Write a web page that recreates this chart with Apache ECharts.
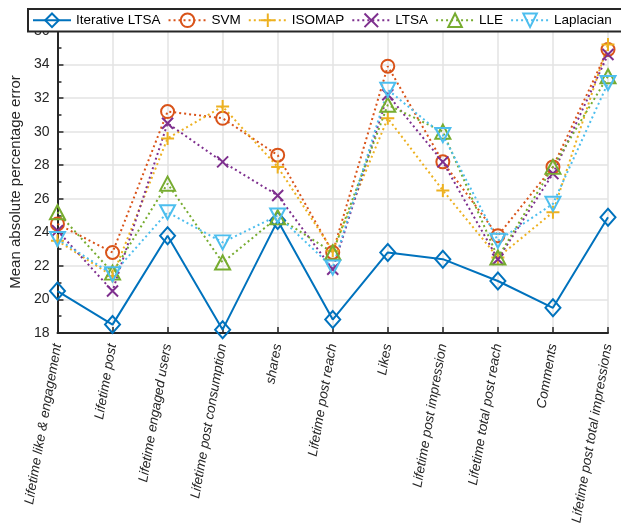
<!DOCTYPE html>
<html>
<head>
<meta charset="utf-8">
<script src="https://cdn.jsdelivr.net/npm/echarts@6/dist/echarts.min.js"></script>
<style>
  html, body { margin: 0; padding: 0; background: #fff; }
  #chart { width: 621px; height: 527px; }
</style>
</head>
<body>
<div id="chart"></div>
<script>
// Feature categories along the x axis
var categories = [
  'Lifetime like & engagement',
  'Lifetime post',
  'Lifetime engaged users',
  'Lifetime post consumption',
  'shares',
  'Lifetime post reach',
  'Likes',
  'Lifetime post impression',
  'Lifetime total post reach',
  'Comments',
  'Lifetime post total impressions'
];

// Mean absolute percentage error per method
var iterativeLtsa = [20.5, 18.5, 23.8, 18.2, 24.7, 18.8, 22.8, 22.4, 21.1, 19.5, 24.9];
var svm           = [24.5, 22.8, 31.2, 30.8, 28.6, 22.8, 33.9, 28.2, 23.8, 27.9, 34.9];
var isomap        = [23.5, 21.4, 29.6, 31.5, 27.9, 22.9, 30.8, 26.5, 22.5, 25.2, 35.2];
var ltsa          = [24.1, 20.5, 30.5, 28.2, 26.2, 21.8, 32.2, 28.2, 22.4, 27.5, 34.6];
var lle           = [25.2, 21.6, 26.9, 22.2, 24.9, 22.8, 31.6, 30.0, 22.5, 27.9, 33.3];
var laplacian     = [23.6, 21.5, 25.2, 23.4, 25.0, 21.9, 32.5, 29.8, 23.5, 25.7, 32.9];

// Y axis range and step
var yTicks = { min: 18, max: 36, step: 2 };

var FONT = 'Liberation Sans, Arial, Helvetica, sans-serif';
var AXIS_COLOR = '#262626';

var PLUS = 'path://M5,0L5,10M0,5L10,5';
var CROSS = 'path://M0,0L10,10M10,0L0,10';

function makeSeries(name, data, color, symbol, size, solid, rotate) {
  return {
    name: name,
    type: 'line',
    data: data,
    symbol: symbol,
    symbolSize: size,
    symbolRotate: rotate || 0,
    showAllSymbol: true,
    lineStyle: {
      color: color,
      width: 2,
      type: solid ? 'solid' : [2, 3]
    },
    itemStyle: {
      color: 'rgba(255,255,255,0)',
      borderColor: color,
      borderWidth: 2
    },
    emphasis: { disabled: true },
    animation: false
  };
}

var chart = echarts.init(document.getElementById('chart'), null, { renderer: 'canvas' });

chart.setOption({
  backgroundColor: '#ffffff',
  animation: false,
  grid: { left: 52, right: 13, top: 31, bottom: 194, containLabel: false },
  legend: {
    left: 28,
    top: 9,
    width: 900,
    orient: 'horizontal',
    itemWidth: 38,
    itemHeight: 17,
    itemGap: 7,
    padding: [3.5, 80, 3.5, 4],
    backgroundColor: '#ffffff',
    borderColor: AXIS_COLOR,
    borderWidth: 2,
    borderRadius: 0,
    textStyle: { fontFamily: FONT, fontSize: 13.5, color: '#000' },
    data: ['Iterative LTSA', 'SVM', 'ISOMAP', 'LTSA', 'LLE', 'Laplacian']
  },
  xAxis: {
    type: 'category',
    data: categories,
    boundaryGap: false,
    axisLine: { show: true, lineStyle: { color: AXIS_COLOR, width: 2 } },
    axisTick: { show: true, inside: true, length: 6, lineStyle: { color: AXIS_COLOR, width: 1.5 } },
    axisLabel: {
      interval: 0,
      rotate: 80,
      margin: 11,
      fontFamily: FONT,
      fontSize: 13.5,
      fontStyle: 'italic',
      color: AXIS_COLOR
    },
    splitLine: { show: true, lineStyle: { color: '#e3e3e3', width: 1.5 } }
  },
  yAxis: {
    type: 'value',
    min: yTicks.min,
    max: yTicks.max,
    interval: yTicks.step,
    name: 'Mean absolute percentage error',
    nameLocation: 'middle',
    nameGap: 28,
    nameTextStyle: { fontFamily: FONT, fontSize: 15, color: AXIS_COLOR },
    axisLine: { show: true, lineStyle: { color: AXIS_COLOR, width: 2 } },
    axisTick: { show: true, inside: true, length: 6, lineStyle: { color: AXIS_COLOR, width: 1.5 } },
    minorTick: { show: true, splitNumber: 2, length: 4, lineStyle: { color: AXIS_COLOR, width: 1.5 } },
    axisLabel: { fontFamily: FONT, fontSize: 14, color: AXIS_COLOR, margin: 8 },
    splitLine: { show: true, lineStyle: { color: '#e3e3e3', width: 1.5 } }
  },
  series: [
    makeSeries('Iterative LTSA', iterativeLtsa, '#0072BD', 'diamond', [15, 17], true),
    makeSeries('SVM', svm, '#D95319', 'circle', 13, false),
    makeSeries('ISOMAP', isomap, '#EDB120', PLUS, 13, false),
    makeSeries('LTSA', ltsa, '#7E2F8E', CROSS, 11, false),
    makeSeries('LLE', lle, '#77AC30', 'triangle', [15, 14], false),
    makeSeries('Laplacian', laplacian, '#4DBEEE', 'triangle', [15, 14], false, 180)
  ]
});
</script>
</body>
</html>
